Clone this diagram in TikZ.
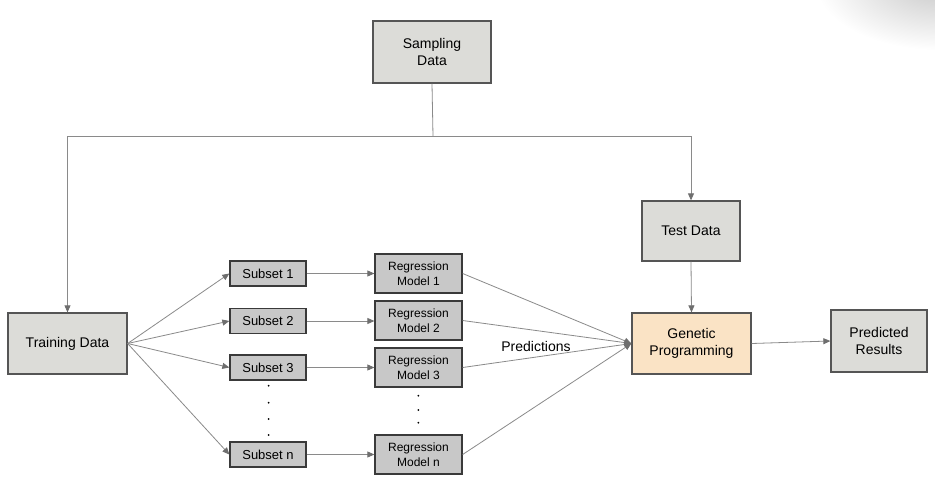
\documentclass[tikz,border=0pt]{standalone}
\usepackage{fontspec}
\setmainfont{Liberation Sans}
\usetikzlibrary{arrows.meta}
\definecolor{boxfill}{HTML}{DCDCD8}
\definecolor{subfill}{HTML}{C8C8C8}
\definecolor{gpfill}{HTML}{FAE3C5}
\definecolor{bord}{HTML}{555555}
\definecolor{subbord}{HTML}{3A3A3A}
\definecolor{linec}{HTML}{8A8A8A}
\definecolor{tipc}{HTML}{6E6E6E}
\tikzset{
  bigbox/.style={draw=bord, line width=1.3pt, fill=boxfill, align=center, inner sep=0pt, font=\fontsize{14}{17}\selectfont},
  subbox/.style={draw=subbord, line width=1.3pt, fill=subfill, align=center, inner sep=0pt, minimum width=76pt, minimum height=25pt, font=\fontsize{13}{15}\selectfont},
  rmbox/.style={draw=subbord, line width=1.3pt, fill=subfill, align=center, inner sep=0pt, minimum width=87pt, minimum height=39pt, font=\fontsize{12}{15}\selectfont},
  arr/.style={draw=linec, line width=0.8pt, -{Triangle[length=7pt,width=6pt,fill=tipc,color=tipc]}},
  ln/.style={draw=linec, line width=0.8pt},
  dotc/.style={fill=black, inner sep=0pt, minimum size=2pt, circle}
}
\begin{document}
\begin{tikzpicture}[x=1pt,y=-1pt]
\useasboundingbox (0,0) rectangle (935,498);
\fill[white] (0,0) rectangle (935,498);
% faint shadow at top right corner
\begin{scope}
  \clip (760,0) rectangle (935,70);
  \shade[inner color=black!22, outer color=white] (940,-18) ellipse (125pt and 68pt);
\end{scope}
% nodes
\node[bigbox, minimum width=118pt, minimum height=62pt] (samp) at (432,52) {Sampling\\Data};
\node[bigbox, minimum width=98pt, minimum height=60pt] (test) at (691,231) {Test Data};
\node[bigbox, minimum width=119pt, minimum height=61pt] (train) at (67.5,343.5) {Training Data};
\node[bigbox, fill=gpfill, minimum width=119pt, minimum height=61pt] (gp) at (691.5,343.5) {Genetic\\Programming};
\node[bigbox, minimum width=96pt, minimum height=62pt] (pred) at (879,341) {Predicted\\Results};
\node[subbox] (s1) at (268,273.5) {Subset 1};
\node[subbox] (s2) at (268,321) {Subset 2};
\node[subbox] (s3) at (268,367.5) {Subset 3};
\node[subbox] (sn) at (268,454.5) {Subset n};
\node[rmbox] (r1) at (418.5,273.5) {Regression\\Model 1};
\node[rmbox] (r2) at (418.5,320.5) {Regression\\Model 2};
\node[rmbox] (r3) at (418.5,367.5) {Regression\\Model 3};
\node[rmbox] (rn) at (418.5,454.5) {Regression\\Model n};
\node[font=\fontsize{14}{17}\selectfont] (plab) at (536,346) {Predictions};
% dots
\node[dotc] (d1) at (268.7,385.7) {};
\node[dotc] (d2) at (268.7,402.7) {};
\node[dotc] (d3) at (268.7,419) {};
\node[dotc] (d4) at (268.7,435) {};
\node[dotc] (e1) at (418.3,395.7) {};
\node[dotc] (e2) at (418.3,410) {};
\node[dotc] (e3) at (418.3,422.7) {};
% connectors
\coordinate (j) at (433,136);
\draw[ln] (samp.south) -- (j);
\draw[arr] (j) -| (train.north);
\draw[arr] (j) -| (test.north);
\draw[arr] (train.east) -- (s1.west);
\draw[arr] (train.east) -- (s2.west);
\draw[arr] (train.east) -- (s3.west);
\draw[arr] (train.east) -- (sn.west);
\draw[arr] (s1.east) -- (r1.west);
\draw[arr] (s2.east) -- (s2.east -| r2.west);
\draw[arr] (s3.east) -- (r3.west);
\draw[arr] (sn.east) -- (rn.west);
\draw[arr] (r1.east) -- (gp.west);
\draw[arr] (r2.east) -- (gp.west);
\draw[arr] (r3.east) -- (gp.west);
\draw[arr] (rn.east) -- (gp.west);
\draw[arr] (test.south) -- (gp.north);
\draw[arr] (gp.east) -- (pred.west);
\end{tikzpicture}
\end{document}
